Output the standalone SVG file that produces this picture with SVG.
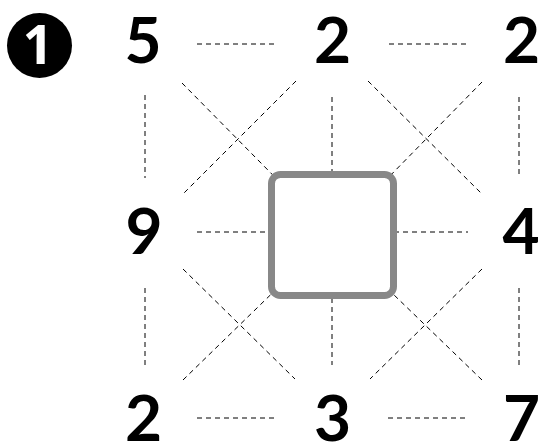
<svg xmlns="http://www.w3.org/2000/svg" width="540" height="442" viewBox="0 0 540 442">
<style>
.d{font-family:"Lato","Open Sans",sans-serif;font-weight:700;font-size:64px;fill:#000;text-anchor:middle}
.c line{stroke:#000;stroke-width:1;stroke-dasharray:5 4;fill:none}
</style>
<rect width="540" height="442" fill="#fff"/>
<g id="label">
<circle cx="39.5" cy="45.5" r="32.5" fill="#000"/>
<text x="38" y="64" font-family="Open Sans, sans-serif" font-weight="700" font-size="53" fill="#fff" text-anchor="middle">1</text>
</g>
<g class="c" id="connectors">
<line x1="197" y1="44" x2="277" y2="44"/>
<line x1="389" y1="44" x2="467" y2="44"/>
<line x1="197" y1="232" x2="280" y2="232"/>
<line x1="385" y1="232" x2="468" y2="232"/>
<line x1="197" y1="418" x2="277" y2="418"/>
<line x1="388" y1="418" x2="467" y2="418"/>
<line x1="145" y1="95" x2="145" y2="178"/>
<line x1="145" y1="288" x2="145" y2="367"/>
<line x1="332" y1="97" x2="332" y2="235"/>
<line x1="332" y1="235" x2="332" y2="365"/>
<line x1="519" y1="97" x2="519" y2="178"/>
<line x1="519" y1="288" x2="519" y2="367"/>
<line x1="182" y1="83" x2="332" y2="235"/>
<line x1="296" y1="81" x2="183" y2="194"/>
<line x1="368" y1="81" x2="482" y2="194"/>
<line x1="482" y1="82" x2="332" y2="235"/>
<line x1="183" y1="269" x2="295" y2="379"/>
<line x1="183" y1="380" x2="332" y2="235"/>
<line x1="482" y1="269" x2="370" y2="379"/>
<line x1="482" y1="380" x2="332" y2="235"/>
</g>
<g id="box">
<rect x="271.5" y="174.5" width="122" height="121" rx="9" fill="#fff" stroke="#888" stroke-width="7"/>
</g>
<g id="n-tl"><text class="d" x="143" y="63">5</text></g>
<g id="n-tm"><text class="d" x="332.5" y="63">2</text></g>
<g id="n-tr"><text class="d" x="521.5" y="63">2</text></g>
<g id="n-ml"><text class="d" x="144" y="254">9</text></g>
<g id="n-mr"><text class="d" x="521" y="254">4</text></g>
<g id="n-bl"><text class="d" x="143.5" y="441">2</text></g>
<g id="n-bm"><text class="d" x="332.5" y="441">3</text></g>
<g id="n-br"><text class="d" x="521.5" y="441">7</text></g>
</svg>
